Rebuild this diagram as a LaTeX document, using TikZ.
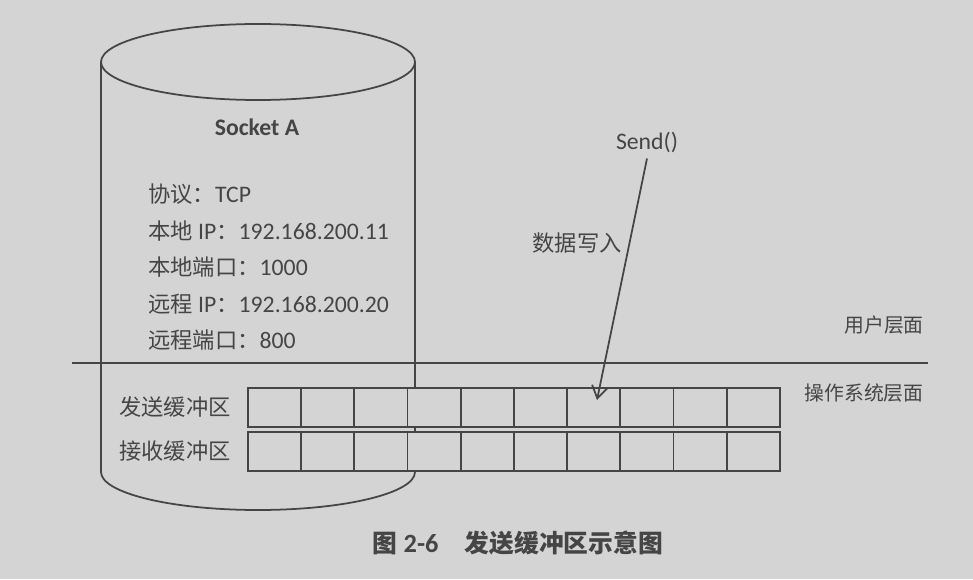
\documentclass[tikz,border=0pt]{standalone}
\usepackage{fontspec}
\setmainfont{Carlito}
\newfontfamily\cjk{Noto Sans CJK SC}[Scale=0.94]
\usetikzlibrary{arrows.meta}
\definecolor{paper}{gray}{0.83}
\definecolor{ink}{gray}{0.27}

\begin{document}
\begin{tikzpicture}[x=0.02cm, y=0.02cm,
  every node/.style={text=ink, font=\fontsize{13.5}{16}\selectfont},
  wall/.style={draw=ink, line width=1pt},
  cell/.style={draw=ink, line width=1pt, fill=paper, inner sep=0pt, anchor=north west,
    minimum width=1.064cm, minimum height=0.78cm},
  info/.style={anchor=west},
  level/.style={font=\fontsize{12}{14}\selectfont\cjk}]
  % Paper
  \fill[paper] (0,0) rectangle (973,579);
  \useasboundingbox (0,0) rectangle (973,579);

  % Socket cylinder
  \draw[wall] (258,517) ellipse[x radius=157, y radius=38];
  \draw[wall] (101,517) -- (101,107) arc[start angle=180, end angle=360, x radius=157, y radius=38] -- (415,517);
  \node[font=\fontsize{13.5}{16}\selectfont\bfseries] (sock) at (257,452) {Socket A};
  \node[info] (proto) at (142,385) {{\cjk 协议：}TCP};
  \node[info] (lip) at (142,348) {{\cjk 本地} IP{\cjk ：}192.168.200.11};
  \node[info] (lport) at (142,312) {{\cjk 本地端口：}1000};
  \node[info] (rip) at (142,275) {{\cjk 远程} IP{\cjk ：}192.168.200.20};
  \node[info] (rport) at (142,239) {{\cjk 远程端口：}800};

  % User / OS boundary
  \draw[wall] (72,216) -- (928,216);
  \node[level] (userlvl) at (884,254) {用户层面};
  \node[level] (oslvl) at (864,186) {操作系统层面};

  % Buffers
  \foreach \i in {1,...,10} {
    \node[cell] (s\i) at ({247+53.2*(\i-1)},192) {};
    \node[cell] (r\i) at ({247+53.2*(\i-1)},148) {};
  }
  \node[anchor=east] (sendbuf) at (237,172) {\cjk 发送缓冲区};
  \node[anchor=east] (recvbuf) at (237,128) {\cjk 接收缓冲区};

  % Send() writes into the send buffer
  \node (send) at (647,437) {Send()};
  \coordinate (tip) at (597,179);
  \draw[->, >={Straight Barb[length=7pt, width=9pt]}, draw=ink, line width=1pt] (send.south) -- (tip);
  \node (write) at (577,336) {\cjk 数据写入};

  % Caption
  \node[font=\fontsize{15}{18}\selectfont\bfseries] (caption) at (518,36) {{\cjk 图} 2-6\quad{\cjk 发送缓冲区示意图}};
\end{tikzpicture}
\end{document}
